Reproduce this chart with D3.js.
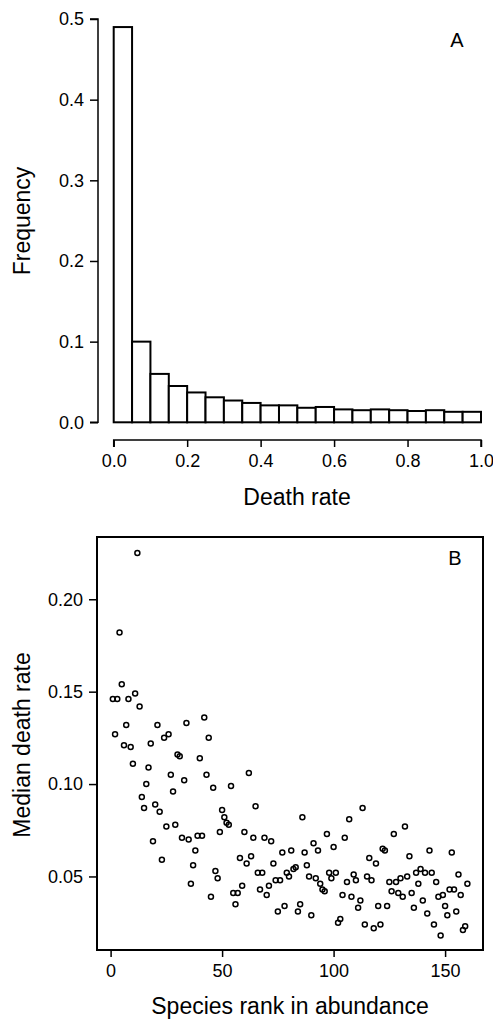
<!DOCTYPE html>
<html>
  <head>
    <script src="https://cdnjs.cloudflare.com/ajax/libs/d3/7.8.5/d3.min.js"></script>
<style>
  body { margin: 0; background: #fff; }
  svg text { font-family: "Liberation Sans", Arial, sans-serif; fill: #000; }
</style>
  </head>
  <body>
    <div id="vis"></div>
    <script type="text/javascript">

        // panel A: histogram of death rate, bins of width 0.05
        const binStarts = [0.00, 0.05, 0.10, 0.15, 0.20, 0.25, 0.30, 0.35, 0.40, 0.45,
            0.50, 0.55, 0.60, 0.65, 0.70, 0.75, 0.80, 0.85, 0.90, 0.95];
        const frequencies = [0.490, 0.100, 0.060, 0.045, 0.037, 0.031, 0.027, 0.024, 0.021, 0.021,
            0.018, 0.019, 0.016, 0.015, 0.016, 0.015, 0.014, 0.015, 0.013, 0.013];
        const histXTicks = [0, 0.2, 0.4, 0.6, 0.8, 1.0];
        const histYTicks = [0, 0.1, 0.2, 0.3, 0.4, 0.5];

        // panel B: median death rate per species, species ranked 1..160 by abundance
        const medianDeath = [
            0.146, 0.127, 0.146, 0.182, 0.154, 0.121, 0.132, 0.146, 0.120, 0.111,
            0.149, 0.225, 0.142, 0.093, 0.087, 0.100, 0.109, 0.122, 0.069, 0.089,
            0.132, 0.085, 0.059, 0.125, 0.077, 0.127, 0.105, 0.096, 0.078, 0.116,
            0.115, 0.071, 0.102, 0.133, 0.070, 0.046, 0.056, 0.064, 0.072, 0.114,
            0.072, 0.136, 0.105, 0.125, 0.039, 0.098, 0.053, 0.049, 0.074, 0.086,
            0.082, 0.079, 0.078, 0.099, 0.041, 0.035, 0.041, 0.060, 0.045, 0.074,
            0.057, 0.106, 0.061, 0.071, 0.088, 0.052, 0.043, 0.052, 0.071, 0.040,
            0.045, 0.069, 0.057, 0.048, 0.031, 0.048, 0.063, 0.034, 0.052, 0.050,
            0.064, 0.054, 0.055, 0.031, 0.035, 0.082, 0.063, 0.056, 0.050, 0.029,
            0.068, 0.049, 0.064, 0.046, 0.043, 0.042, 0.073, 0.052, 0.049, 0.066,
            0.052, 0.025, 0.027, 0.040, 0.071, 0.047, 0.081, 0.039, 0.051, 0.048,
            0.033, 0.037, 0.087, 0.024, 0.050, 0.060, 0.048, 0.022, 0.057, 0.034,
            0.024, 0.065, 0.064, 0.034, 0.047, 0.042, 0.073, 0.047, 0.041, 0.049,
            0.039, 0.077, 0.050, 0.061, 0.041, 0.033, 0.052, 0.046, 0.054, 0.037,
            0.052, 0.030, 0.064, 0.052, 0.024, 0.047, 0.039, 0.018, 0.040, 0.034,
            0.029, 0.043, 0.063, 0.043, 0.031, 0.051, 0.040, 0.021, 0.023, 0.046];
        const ranks = medianDeath.map((d, i) => i + 1);
        const scatXTicks = [0, 50, 100, 150];
        const scatYTicks = [0.05, 0.10, 0.15, 0.20];

        const width = 493;
        const height = 1020;
        const svg = d3.select("#vis").append("svg")
            .attr("width", width)
            .attr("height", height);

        const tickFont = 18;
        const titleFont = 23;

        // ---------- A ----------
        var xA = d3.scaleLinear().domain([0, 1]).range([113.7, 481]);
        var yA = d3.scaleLinear().domain([0, 0.5]).range([422.3, 19]);

        svg.append("g").selectAll("rect")
            .data(frequencies)
            .join("rect")
            .attr("x", (d, i) => xA(binStarts[i]))
            .attr("width", (d, i) => xA(binStarts[i] + 0.05) - xA(binStarts[i]))
            .attr("y", d => yA(d))
            .attr("height", d => yA(0) - yA(d))
            .attr("fill", "white")
            .attr("stroke", "black")
            .attr("stroke-width", 2);

        var axA = svg.append("g").attr("transform", "translate(0,440)")
            .call(d3.axisBottom(xA).tickValues(histXTicks).tickFormat(d3.format(".1f")).tickSize(7).tickPadding(7));
        var ayA = svg.append("g").attr("transform", "translate(98,0)")
            .call(d3.axisLeft(yA).tickValues(histYTicks).tickFormat(d3.format(".1f")).tickSize(8).tickPadding(6));

        svg.append("text").attr("x", 297).attr("y", 505)
            .attr("text-anchor", "middle").attr("font-size", titleFont).text("Death rate");
        svg.append("text").attr("transform", "translate(30,221) rotate(-90)")
            .attr("text-anchor", "middle").attr("font-size", titleFont).text("Frequency");
        svg.append("text").attr("x", 457).attr("y", 47)
            .attr("text-anchor", "middle").attr("font-size", 20).text("A");

        // ---------- B ----------
        var xB = d3.scaleLinear().domain([-6.1, 167]).range([97, 483]);
        var yB = d3.scaleLinear().domain([0.0102, 0.2337]).range([950, 537]);

        svg.append("rect")
            .attr("x", xB.range()[0]).attr("y", yB.range()[1])
            .attr("width", xB.range()[1] - xB.range()[0])
            .attr("height", yB.range()[0] - yB.range()[1])
            .attr("fill", "none").attr("stroke", "black").attr("stroke-width", 2);

        svg.append("g").selectAll("circle")
            .data(medianDeath)
            .join("circle")
            .attr("cx", (d, i) => xB(ranks[i]))
            .attr("cy", d => yB(d))
            .attr("r", 2.5)
            .attr("fill", "none")
            .attr("stroke", "black")
            .attr("stroke-width", 1.5);

        var axB = svg.append("g").attr("transform", "translate(0,950)")
            .call(d3.axisBottom(xB).tickValues(scatXTicks).tickSize(7).tickPadding(7));
        var ayB = svg.append("g").attr("transform", "translate(97,0)")
            .call(d3.axisLeft(yB).tickValues(scatYTicks).tickFormat(d3.format(".2f")).tickSize(8).tickPadding(6));
        ayB.select(".domain").remove();
        axB.select(".domain").remove();

        [axA, ayA, axB, ayB].forEach(g => {
            g.selectAll("text").attr("font-size", tickFont).attr("font-family", null);
            g.selectAll("line, path").attr("stroke", "black").attr("stroke-width", 1.5);
            g.attr("font-family", null);
        });
        // R style axis: line only between first and last tick
        axA.select(".domain").attr("d", `M${xA(0)},7V0H${xA(1)}V7`);
        ayA.select(".domain").attr("d", `M-8,${yA(0.5)}H0V${yA(0)}H-8`);

        svg.append("text").attr("x", 290).attr("y", 1014)
            .attr("text-anchor", "middle").attr("font-size", titleFont).text("Species rank in abundance");
        svg.append("text").attr("transform", "translate(30,745) rotate(-90)")
            .attr("text-anchor", "middle").attr("font-size", titleFont).text("Median death rate");
        svg.append("text").attr("x", 455).attr("y", 565)
            .attr("text-anchor", "middle").attr("font-size", 20).text("B");

    </script>
  </body>
</html>
